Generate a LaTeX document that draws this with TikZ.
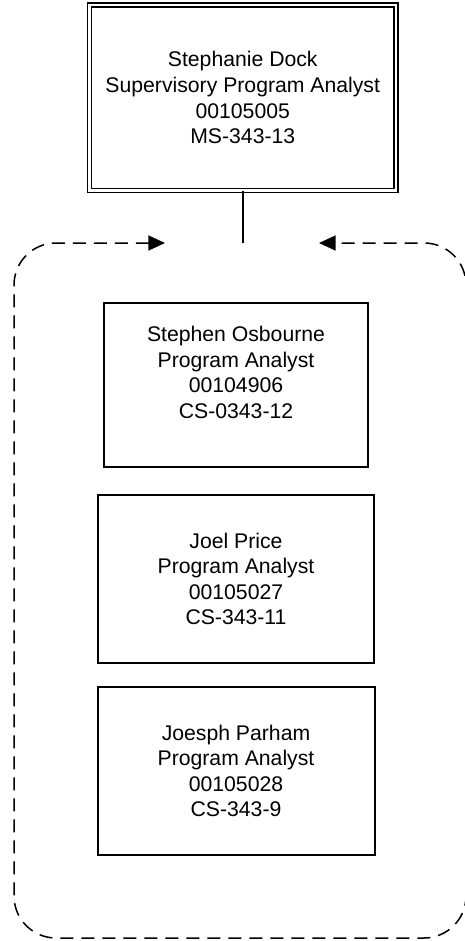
\documentclass[tikz,border=0pt]{standalone}
\usepackage{fontspec}
\setmainfont{Liberation Sans}
\usepackage{tikz}
\usetikzlibrary{positioning,arrows.meta}
\tikzset{
card/.style={draw=black,line width=1pt,inner sep=0pt,align=center,font=\fontsize{10.6}{12.8}\selectfont},
headcard/.style={card,double,line width=0.7pt,double distance=1.2pt},
teamframe/.style={line width=0.75pt,dash pattern=on 6.5pt off 4pt,rounded corners=21pt},
linkline/.style={line width=0.75pt},
inarrows/.style={{Triangle[length=8.3pt,width=7.5pt]}-{Triangle[length=8.3pt,width=7.5pt]}}
}

\begin{document}
\begin{tikzpicture}[x=0.5pt,y=-0.5pt]
\useasboundingbox (0,0) rectangle (465,941);
\node[headcard,minimum width=153.25pt,minimum height=92.75pt] (sup) at (242.75,97.75) {Stephanie Dock\\Supervisory Program Analyst\\00105005\\MS-343-13};
\node[card,minimum width=132pt,minimum height=82pt] (osb) at (236,385) {Stephen Osbourne\\Program Analyst\\00104906\\CS-0343-12\\ \mbox{}};
\node[card,minimum width=138pt,minimum height=84pt,below=13pt of osb] (pri) {Joel Price\\Program Analyst\\00105027\\CS-343-11};
\node[card,minimum width=138.5pt,minimum height=84pt,below=11pt of pri] (par) {Joesph Parham\\Program Analyst\\00105028\\CS-343-9};
\coordinate (ltip) at (165,243);
\coordinate (rtip) at (319,243);
\coordinate (join) at (sup.south |- ltip);
\draw[linkline] (sup.south) -- (join);
\draw[teamframe,inarrows] (ltip) -| (14,938) -| (466,243) -- (rtip);
\end{tikzpicture}
\end{document}
